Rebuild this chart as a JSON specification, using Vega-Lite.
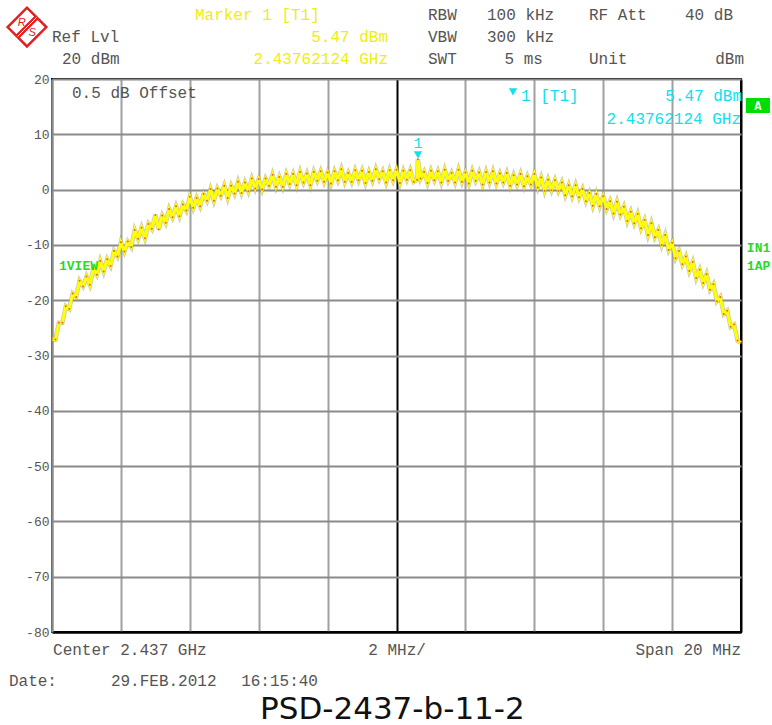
{
  "$schema": "https://vega.github.io/schema/vega-lite/v6.json",
  "width": 689,
  "height": 553,
  "autosize": "none",
  "padding": {"left": 52, "top": 79, "right": 31, "bottom": 93},
  "background": "white",
  "config": {"view": {"stroke": "#000", "strokeWidth": 2}},
  "datasets": {
    "trace": [
      {"f":-10.0,"db":-27.0},{"f":-9.9,"db":-27.1},{"f":-9.8,"db":-24.1},{"f":-9.7,"db":-24.1},{"f":-9.6,"db":-21.1},{"f":-9.5,"db":-21.6},{"f":-9.4,"db":-18.8},{"f":-9.3,"db":-19.4},{"f":-9.2,"db":-16.5},{"f":-9.1,"db":-17.5},
      {"f":-9.0,"db":-15.7},{"f":-8.9,"db":-17.2},{"f":-8.8,"db":-14.3},{"f":-8.7,"db":-15.4},{"f":-8.6,"db":-12.9},{"f":-8.5,"db":-14.8},{"f":-8.4,"db":-12.6},{"f":-8.3,"db":-13.8},{"f":-8.2,"db":-11.1},{"f":-8.1,"db":-12.1},
      {"f":-8.0,"db":-9.5},{"f":-7.9,"db":-11.2},{"f":-7.8,"db":-9.4},{"f":-7.7,"db":-10.4},{"f":-7.6,"db":-7.3},{"f":-7.5,"db":-8.9},{"f":-7.4,"db":-6.9},{"f":-7.3,"db":-8.8},{"f":-7.2,"db":-6.2},{"f":-7.1,"db":-7.1},
      {"f":-7.0,"db":-4.6},{"f":-6.9,"db":-7.2},{"f":-6.8,"db":-4.7},{"f":-6.7,"db":-6.0},{"f":-6.6,"db":-3.5},{"f":-6.5,"db":-5.0},{"f":-6.4,"db":-3.0},{"f":-6.3,"db":-4.8},{"f":-6.2,"db":-2.7},{"f":-6.1,"db":-3.8},
      {"f":-6.0,"db":-1.3},{"f":-5.9,"db":-3.3},{"f":-5.8,"db":-1.5},{"f":-5.7,"db":-3.0},{"f":-5.6,"db":-0.8},{"f":-5.5,"db":-2.0},{"f":-5.4,"db":0.1},{"f":-5.3,"db":-2.0},{"f":-5.2,"db":0.2},{"f":-5.1,"db":-1.1},
      {"f":-5.0,"db":0.7},{"f":-4.9,"db":-1.5},{"f":-4.8,"db":0.7},{"f":-4.7,"db":-0.7},{"f":-4.6,"db":1.4},{"f":-4.5,"db":-0.6},{"f":-4.4,"db":1.3},{"f":-4.3,"db":-0.3},{"f":-4.2,"db":2.0},{"f":-4.1,"db":0.2},
      {"f":-4.0,"db":1.9},{"f":-3.9,"db":0.0},{"f":-3.8,"db":2.0},{"f":-3.7,"db":0.7},{"f":-3.6,"db":2.7},{"f":-3.5,"db":0.5},{"f":-3.4,"db":2.3},{"f":-3.3,"db":0.5},{"f":-3.2,"db":2.8},{"f":-3.1,"db":1.0},
      {"f":-3.0,"db":2.8},{"f":-2.9,"db":0.8},{"f":-2.8,"db":3.2},{"f":-2.7,"db":1.3},{"f":-2.6,"db":2.9},{"f":-2.5,"db":0.8},{"f":-2.4,"db":3.2},{"f":-2.3,"db":1.6},{"f":-2.2,"db":3.3},{"f":-2.1,"db":1.4},
      {"f":-2.0,"db":3.1},{"f":-1.9,"db":1.1},{"f":-1.8,"db":3.3},{"f":-1.7,"db":1.7},{"f":-1.6,"db":3.7},{"f":-1.5,"db":1.4},{"f":-1.4,"db":3.0},{"f":-1.3,"db":1.4},{"f":-1.2,"db":3.5},{"f":-1.1,"db":1.7},
      {"f":-1.0,"db":3.4},{"f":-0.9,"db":1.2},{"f":-0.8,"db":3.2},{"f":-0.7,"db":1.6},{"f":-0.6,"db":3.7},{"f":-0.5,"db":1.9},{"f":-0.4,"db":3.3},{"f":-0.3,"db":1.3},{"f":-0.2,"db":3.5},{"f":-0.1,"db":1.7},
      {"f":0.0,"db":3.6},{"f":0.1,"db":1.2},{"f":0.2,"db":3.4},{"f":0.3,"db":1.8},{"f":0.4,"db":3.5},{"f":0.5,"db":1.4},{"f":0.6,"db":1.8},{"f":0.62,"db":5.47},{"f":0.7,"db":2.0},{"f":0.8,"db":3.2},{"f":0.9,"db":1.2},
      {"f":1.0,"db":3.4},{"f":1.1,"db":1.7},{"f":1.2,"db":3.3},{"f":1.3,"db":1.3},{"f":1.4,"db":3.6},{"f":1.5,"db":1.6},{"f":1.6,"db":3.0},{"f":1.7,"db":1.3},{"f":1.8,"db":3.6},{"f":1.9,"db":1.4},
      {"f":2.0,"db":3.1},{"f":2.1,"db":1.1},{"f":2.2,"db":3.4},{"f":2.3,"db":1.6},{"f":2.4,"db":3.1},{"f":2.5,"db":0.9},{"f":2.6,"db":3.2},{"f":2.7,"db":1.3},{"f":2.8,"db":3.3},{"f":2.9,"db":1.1},
      {"f":3.0,"db":2.9},{"f":3.1,"db":1.3},{"f":3.2,"db":3.0},{"f":3.3,"db":0.7},{"f":3.4,"db":2.6},{"f":3.5,"db":0.9},{"f":3.6,"db":2.8},{"f":3.7,"db":0.6},{"f":3.8,"db":2.4},{"f":3.9,"db":0.9},
      {"f":4.0,"db":2.8},{"f":4.1,"db":0.4},{"f":4.2,"db":2.2},{"f":4.3,"db":-0.2},{"f":4.4,"db":1.8},{"f":4.5,"db":-0.1},{"f":4.6,"db":1.7},{"f":4.7,"db":-0.2},{"f":4.8,"db":1.3},{"f":4.9,"db":-1.0},
      {"f":5.0,"db":0.8},{"f":5.1,"db":-1.2},{"f":5.2,"db":0.8},{"f":5.3,"db":-1.4},{"f":5.4,"db":0.1},{"f":5.5,"db":-2.1},{"f":5.6,"db":-0.6},{"f":5.7,"db":-2.9},{"f":5.8,"db":-0.8},{"f":5.9,"db":-3.0},
      {"f":6.0,"db":-1.2},{"f":6.1,"db":-3.5},{"f":6.2,"db":-2.1},{"f":6.3,"db":-4.3},{"f":6.4,"db":-2.2},{"f":6.5,"db":-4.5},{"f":6.6,"db":-3.1},{"f":6.7,"db":-5.7},{"f":6.8,"db":-4.0},{"f":6.9,"db":-6.1},
      {"f":7.0,"db":-4.4},{"f":7.1,"db":-7.0},{"f":7.2,"db":-5.5},{"f":7.3,"db":-8.2},{"f":7.4,"db":-6.1},{"f":7.5,"db":-8.6},{"f":7.6,"db":-7.3},{"f":7.7,"db":-10.0},{"f":7.8,"db":-8.2},{"f":7.9,"db":-10.9},
      {"f":8.0,"db":-9.6},{"f":8.1,"db":-12.4},{"f":8.2,"db":-11.1},{"f":8.3,"db":-13.5},{"f":8.4,"db":-12.1},{"f":8.5,"db":-14.7},{"f":8.6,"db":-13.1},{"f":8.7,"db":-16.0},{"f":8.8,"db":-14.5},{"f":8.9,"db":-16.9},
      {"f":9.0,"db":-15.3},{"f":9.1,"db":-18.1},{"f":9.2,"db":-17.1},{"f":9.3,"db":-20.2},{"f":9.4,"db":-19.4},{"f":9.5,"db":-22.5},{"f":9.6,"db":-21.9},{"f":9.7,"db":-24.8},{"f":9.8,"db":-24.4},{"f":9.9,"db":-27.3},
      {"f":10.0,"db":-27.7}
    ],
    "grayLeft": [
      {"f":-10.0,"db":27.6,"label":"Ref Lvl"},
      {"f":-9.71,"db":23.6,"label":"20 dBm"},
      {"f":0.914,"db":31.57,"label":"RBW"},
      {"f":2.627,"db":31.57,"label":"100 kHz"},
      {"f":5.588,"db":31.57,"label":"RF Att"},
      {"f":0.914,"db":27.6,"label":"VBW"},
      {"f":2.627,"db":27.6,"label":"300 kHz"},
      {"f":0.914,"db":23.6,"label":"SWT"},
      {"f":5.588,"db":23.6,"label":"Unit"},
      {"f":-9.42,"db":17.47,"label":"0.5 dB Offset"},
      {"f":-9.97,"db":-83.25,"label":"Center 2.437 GHz"},
      {"f":-11.25,"db":-88.86,"label":"Date:"},
      {"f":-8.29,"db":-88.86,"label":"29.FEB.2012"},
      {"f":-4.51,"db":-88.86,"label":"16:15:40"}
    ],
    "grayRight": [
      {"f":9.768,"db":31.57,"label":"40 dB"},
      {"f":4.25,"db":23.6,"label":"5 ms"},
      {"f":10.087,"db":23.6,"label":"dBm"},
      {"f":10.0,"db":-83.25,"label":"Span 20 MHz"}
    ],
    "grayCenter": [
      {"f":0.015,"db":-83.25,"label":"2 MHz/"}
    ],
    "yellowLeft": [
      {"f":-5.85,"db":31.57,"label":"Marker 1 [T1]"}
    ],
    "yellowRight": [
      {"f":-0.247,"db":27.6,"label":"5.47 dBm"},
      {"f":-0.247,"db":23.6,"label":"2.43762124 GHz"}
    ],
    "cyanLeft": [
      {"f":3.614,"db":16.9,"label":"1 [T1]"}
    ],
    "cyanRight": [
      {"f":10.03,"db":16.9,"label":"5.47 dBm"},
      {"f":10.0,"db":12.7,"label":"2.43762124 GHz"}
    ],
    "cyanCenter": [
      {"f":0.624,"db":8.43,"label":"1"}
    ],
    "cyanMarkers": [
      {"f":3.382,"db":17.65},
      {"f":0.624,"db":6.26}
    ],
    "greenLabels": [
      {"f":-9.797,"db":-13.82,"label":"1VIEW"},
      {"f":10.17,"db":-10.56,"label":"IN1"},
      {"f":10.17,"db":-13.82,"label":"1AP"}
    ],
    "statusBox": [
      {"f":10.14,"f2":10.84,"db":13.85,"db2":16.56}
    ],
    "statusLabel": [
      {"f":10.49,"db":15.2,"label":"A"}
    ],
    "logo": [
      {"f":-10.726,"db":29.4}
    ],
    "logoBar": [
      {"f":-11.0,"db":27.69,"f2":-10.45,"db2":31.12}
    ],
    "logoLetters": [
      {"f":-10.88,"db":30.18,"label":"R"},
      {"f":-10.572,"db":28.37,"label":"S"}
    ],
    "caption": [
      {"f":-0.12,"db":-94.1,"label":"PSD-2437-b-11-2"}
    ]
  },
  "encoding": {
    "x": {
      "field": "f",
      "type": "quantitative",
      "scale": {"domain": [-10, 10], "nice": false, "zero": false},
      "axis": {
        "values": [-10, -8, -6, -4, -2, 0, 2, 4, 6, 8, 10],
        "labels": false,
        "ticks": false,
        "domain": true,
        "domainColor": "#000",
        "domainWidth": 2,
        "grid": true,
        "gridColor": {"condition": {"test": "datum.value === 0 || datum.value === 10", "value": "#000"}, "value": "#a0a0a0"},
        "gridWidth": 2,
        "title": null
      }
    },
    "y": {
      "field": "db",
      "type": "quantitative",
      "scale": {"domain": [-80, 20], "nice": false, "zero": false},
      "axis": {
        "values": [-80, -70, -60, -50, -40, -30, -20, -10, 0, 10, 20],
        "ticks": false,
        "domain": true,
        "domainColor": "#8a8a8a",
        "domainWidth": 2,
        "grid": true,
        "gridColor": {"condition": {"test": "datum.value === -80", "value": "#000"}, "value": "#8a8a8a"},
        "gridWidth": 2,
        "labelFont": "Liberation Mono",
        "labelFontSize": 13,
        "labelColor": "#555",
        "labelPadding": 3,
        "labelExpr": "datum.value < 0 ? '-' + (-datum.value) : '' + datum.value",
        "title": null
      }
    }
  },
  "layer": [
    {"data": {"name": "trace"}, "mark": {"type": "line", "color": "#9a9a60", "strokeWidth": 4.5, "opacity": 0.5}},
    {"data": {"name": "trace"}, "mark": {"type": "line", "color": "#ffff00", "strokeWidth": 3}},
    {"data": {"name": "trace"}, "mark": {"type": "point", "filled": true, "color": "#e84020", "size": 4, "opacity": 0.8}},
    {"data": {"name": "grayLeft"}, "mark": {"type": "text", "font": "Liberation Mono", "fontSize": 16, "align": "left", "baseline": "middle", "fill": "#555"}, "encoding": {"text": {"field": "label"}}},
    {"data": {"name": "grayRight"}, "mark": {"type": "text", "font": "Liberation Mono", "fontSize": 16, "align": "right", "baseline": "middle", "fill": "#555"}, "encoding": {"text": {"field": "label"}}},
    {"data": {"name": "grayCenter"}, "mark": {"type": "text", "font": "Liberation Mono", "fontSize": 16, "align": "center", "baseline": "middle", "fill": "#555"}, "encoding": {"text": {"field": "label"}}},
    {"data": {"name": "yellowLeft"}, "mark": {"type": "text", "font": "Liberation Mono", "fontSize": 16, "align": "left", "baseline": "middle", "fill": "#eeee10"}, "encoding": {"text": {"field": "label"}}},
    {"data": {"name": "yellowRight"}, "mark": {"type": "text", "font": "Liberation Mono", "fontSize": 16, "align": "right", "baseline": "middle", "fill": "#eeee10"}, "encoding": {"text": {"field": "label"}}},
    {"data": {"name": "cyanLeft"}, "mark": {"type": "text", "font": "Liberation Mono", "fontSize": 16, "align": "left", "baseline": "middle", "fill": "#10e0f0"}, "encoding": {"text": {"field": "label"}}},
    {"data": {"name": "cyanRight"}, "mark": {"type": "text", "font": "Liberation Mono", "fontSize": 16, "align": "right", "baseline": "middle", "fill": "#10e0f0"}, "encoding": {"text": {"field": "label"}}},
    {"data": {"name": "cyanCenter"}, "mark": {"type": "text", "font": "Liberation Mono", "fontSize": 15, "align": "center", "baseline": "middle", "fill": "#10e0f0"}, "encoding": {"text": {"field": "label"}}},
    {"data": {"name": "cyanMarkers"}, "mark": {"type": "point", "shape": "triangle-down", "filled": true, "color": "#10e0f0", "size": 70, "opacity": 1}},
    {"data": {"name": "greenLabels"}, "mark": {"type": "text", "font": "Liberation Mono", "fontSize": 13, "fontWeight": "bold", "align": "left", "baseline": "middle", "fill": "#22dd22"}, "encoding": {"text": {"field": "label"}}},
    {"data": {"name": "statusBox"}, "mark": {"type": "rect", "color": "#00dd00"}, "encoding": {"x2": {"field": "f2"}, "y2": {"field": "db2"}}},
    {"data": {"name": "statusLabel"}, "mark": {"type": "text", "font": "Liberation Mono", "fontSize": 12, "fontWeight": "bold", "align": "center", "baseline": "middle", "fill": "#ffffff"}, "encoding": {"text": {"field": "label"}}},
    {"data": {"name": "logo"}, "mark": {"type": "point", "shape": "diamond", "filled": false, "stroke": "#e02020", "strokeWidth": 2.5, "size": 1500, "opacity": 1}},
    {"data": {"name": "logoBar"}, "mark": {"type": "rule", "color": "#e02020", "strokeWidth": 5}, "encoding": {"x2": {"field": "f2"}, "y2": {"field": "db2"}}},
    {"data": {"name": "logoBar"}, "mark": {"type": "rule", "color": "#ffffff", "strokeWidth": 1}, "encoding": {"x2": {"field": "f2"}, "y2": {"field": "db2"}}},
    {"data": {"name": "logoLetters"}, "mark": {"type": "text", "font": "Liberation Sans", "fontSize": 11, "fontStyle": "italic", "align": "center", "baseline": "middle", "fill": "#e02020"}, "encoding": {"text": {"field": "label"}}},
    {"data": {"name": "caption"}, "mark": {"type": "text", "font": "DejaVu Sans", "fontSize": 31, "align": "center", "baseline": "middle", "fill": "#111"}, "encoding": {"text": {"field": "label"}}}
  ]
}
